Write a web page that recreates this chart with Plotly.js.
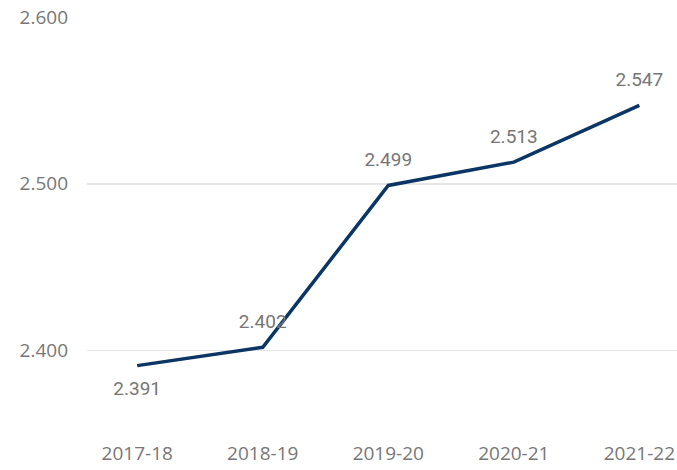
<!DOCTYPE html>
<html>
<head>
<meta charset="utf-8">
<script src="https://cdn.plot.ly/plotly-3.0.1.min.js"></script>
<style>html,body{margin:0;padding:0;background:#fff;}#chart{width:677px;height:470px;}</style>
</head>
<body>
<div id="chart"></div>
<script>
var categories = ["2017-18", "2018-19", "2019-20", "2020-21", "2021-22"];
var values = [2.391, 2.402, 2.499, 2.513, 2.547];
var valueLabels = ["2.391", "2.402", "2.499", "2.513", "2.547"];
var yTickValues = [2.4, 2.5, 2.6];
var yTickLabels = ["2.400", "2.500", "2.600"];
var labelPositions = ["bottom center", "top center", "top center", "top center", "top center"];

var trace = {
  x: categories,
  y: values,
  type: "scatter",
  mode: "lines+markers+text",
  text: valueLabels,
  textposition: labelPositions,
  textfont: {family: "Roboto, 'DejaVu Sans Condensed', sans-serif", size: 19, color: "#767676"},
  line: {color: "#0b3564", width: 3.5},
  marker: {size: 22, color: "rgba(0,0,0,0)"},
  cliponaxis: false,
  hoverinfo: "none"
};

var layout = {
  width: 677,
  height: 470,
  margin: {l: 87, r: 0, t: 17, b: 36},
  paper_bgcolor: "#ffffff",
  plot_bgcolor: "#ffffff",
  showlegend: false,
  xaxis: {
    type: "category",
    range: [-0.4, 4.3],
    showgrid: false,
    zeroline: false,
    showline: false,
    ticks: "",
    ticklabelstandoff: 6,
    tickfont: {family: "'Open Sans', 'Noto Sans', sans-serif", size: 19, color: "#777777"}
  },
  yaxis: {
    range: [2.35, 2.6],
    tickvals: yTickValues,
    ticktext: yTickLabels,
    showgrid: true,
    gridcolor: "#e6e6e6",
    gridwidth: 1.5,
    zeroline: false,
    showline: false,
    ticks: "",
    ticklabelstandoff: 18,
    tickfont: {family: "'Open Sans', 'Noto Sans', sans-serif", size: 19, color: "#777777"}
  }
};

Plotly.newPlot("chart", [trace], layout, {staticPlot: true, displayModeBar: false});
</script>
</body>
</html>
